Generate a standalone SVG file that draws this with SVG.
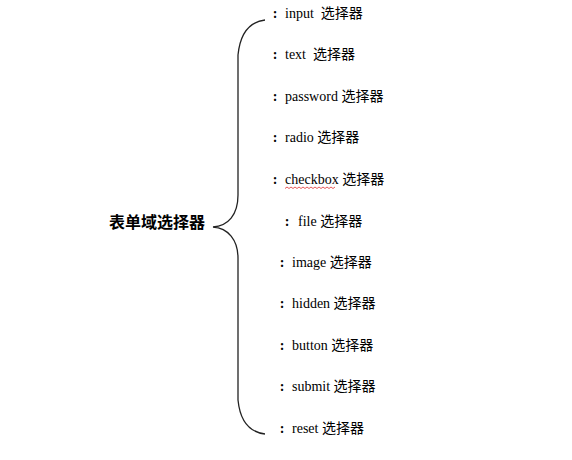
<svg xmlns="http://www.w3.org/2000/svg" width="572" height="460" viewBox="0 0 572 460">
<style>
.bg{fill:#ffffff}
.brace{fill:none;stroke:#222;stroke-width:1.3}
.c{font-family:"Liberation Serif","Noto Sans CJK SC",serif;font-size:14px;font-weight:bold;fill:#000;text-anchor:middle}
.w{font-family:"Liberation Serif","Noto Sans CJK SC",serif;font-size:14px;fill:#000;white-space:pre}
.t{font-family:"Noto Sans CJK SC","Liberation Sans",sans-serif;font-size:16px;font-weight:bold;fill:#000}
.sq{fill:none;stroke:#e03030;stroke-width:0.8}
</style>
<rect class="bg" x="0" y="0" width="572" height="460"/>
<g id="connectors">
<path class="brace" d="M265,20 C248,22 240,35 238,55 L238,195 C238,215 228,226 213,227 C228,228 238,240 238,258 L238,400 C240,420 248,432 265,434"/>
</g>
<g id="root"><text class="t" x="109" y="228">表单域选择器</text></g>
<g id="n-input"><text class="c" x="275" y="18">:</text><text class="w" x="285" y="18" xml:space="preserve">input  选择器</text></g>
<g id="n-text"><text class="c" x="275" y="59">:</text><text class="w" x="285" y="59" xml:space="preserve">text  选择器</text></g>
<g id="n-password"><text class="c" x="275" y="101">:</text><text class="w" x="285" y="101">password 选择器</text></g>
<g id="n-radio"><text class="c" x="275" y="142">:</text><text class="w" x="285" y="142">radio 选择器</text></g>
<g id="n-checkbox"><text class="c" x="275" y="184">:</text><text class="w" x="285" y="184">checkbox 选择器</text>
<path class="sq" d="M285,188.5 l2,-1.5 l2,1.5 l2,-1.5 l2,1.5 l2,-1.5 l2,1.5 l2,-1.5 l2,1.5 l2,-1.5 l2,1.5 l2,-1.5 l2,1.5 l2,-1.5 l2,1.5 l2,-1.5 l2,1.5 l2,-1.5 l2,1.5 l2,-1.5 l2,1.5 l2,-1.5 l2,1.5 l2,-1.5 l2,1.5 l2,-1.5"/></g>
<g id="n-file"><text class="c" x="287" y="226">:</text><text class="w" x="298" y="226">file 选择器</text></g>
<g id="n-image"><text class="c" x="282" y="267">:</text><text class="w" x="292" y="267">image 选择器</text></g>
<g id="n-hidden"><text class="c" x="282" y="308">:</text><text class="w" x="292" y="308">hidden 选择器</text></g>
<g id="n-button"><text class="c" x="282" y="350">:</text><text class="w" x="292" y="350">button 选择器</text></g>
<g id="n-submit"><text class="c" x="282" y="391">:</text><text class="w" x="292" y="391">submit 选择器</text></g>
<g id="n-reset"><text class="c" x="282" y="433">:</text><text class="w" x="292" y="433">reset 选择器</text></g>
</svg>
